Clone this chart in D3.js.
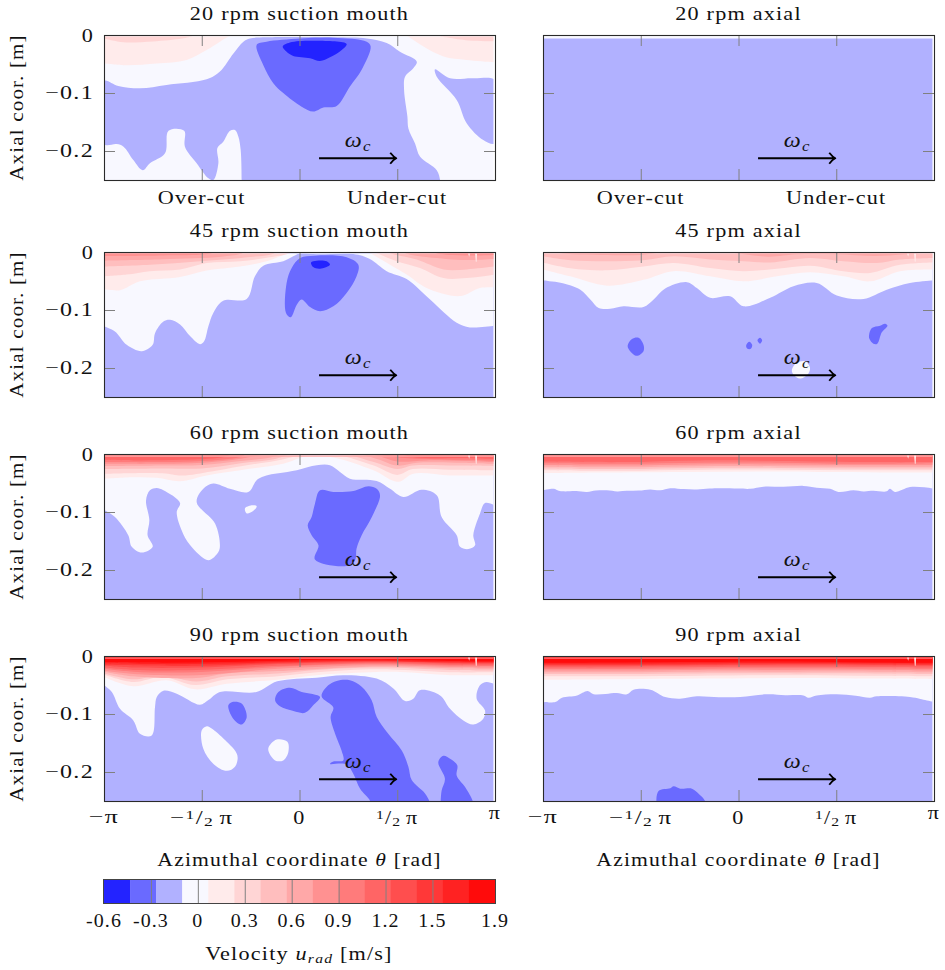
<!DOCTYPE html>
<html><head><meta charset="utf-8">
<script src="https://cdn.jsdelivr.net/npm/d3@7/dist/d3.min.js"></script>
<style>
html,body{margin:0;padding:0;background:#fff}
text{font-family:"Liberation Serif",serif;font-size:18.5px;fill:#111;letter-spacing:1px}
</style></head><body><svg id="c" width="945" height="970"></svg>
<script>
// ---- colour levels and labels (θ in units of π, z in metres)
const colorbarTicks=[-0.6,-0.3,0,0.3,0.6,0.9,1.2,1.5,1.9];
const levelEdges=[-0.6,-0.4333,-0.2667,-0.1,0.0667,0.2333,0.4,0.5667,0.7333,0.9,1.0667,1.2333,1.4,1.5667,1.7333,1.9];
const yTicks=[-0.1,-0.2];
const xTicks=[-0.5,0,0.5];

// ---- shared small features
const slitA=[[.862,-.002],[.872,-.002],[.868,-.008]];
const slitB=[[.898,-.002],[.908,-.002],[.906,-.017],[.902,-.017]];
const fullBox=[[-1,0],[1,0],[1,-.25],[-1,-.25]];
const capEdge=[[-1,-.0048],[1,-.0048]];

// ---- 20 rpm suction
const s20LavA=[[-1,-.079],[-.927,-.088],[-.816,-.092],[-.68,-.086],[-.475,-.0765],[-.407,-.063],[-.338,-.032],[-.287,-.0115],[-.253,-.006],[-.168,-.004],[.173,-.004],[.344,-.006],[.446,-.014],[.514,-.029],[.6,-.046],[.582,-.0575],[.54,-.072],[.535,-.095],[.552,-.141],[.557,-.161],[.591,-.187],[.617,-.21],[.702,-.233],[.719,-.25],[.72,-.26],[-.296,-.26],[-.296,-.25],[-.301,-.198],[-.313,-.175],[-.33,-.164],[-.355,-.165],[-.39,-.184],[-.42,-.195],[-.415,-.221],[-.441,-.25],[-.466,-.247],[-.526,-.221],[-.586,-.1925],[-.59,-.165],[-.67,-.165],[-.688,-.204],[-.765,-.221],[-.802,-.233],[-.85,-.2155],[-.9,-.1925],[-.935,-.188],[-1,-.1885],[-1.02,-.13]];
const s20LavB=[[.693,-.059],[.77,-.0747],[.889,-.0747],[1,-.0776],[1.02,-.13],[1,-.187],[.94,-.181],[.855,-.152],[.804,-.112],[.702,-.072]];
const s20PinkL=[[-1,-.049],[-.884,-.052],[-.73,-.049],[-.577,-.043],[-.475,-.026],[-.407,-.0115],[-.364,-.003],[-.3,.005]];
const s20PinkR=[[.5,.005],[.557,-.003],[.634,-.02],[.736,-.037],[.855,-.043],[1,-.047]];
const s20RoseL=[[-1,-.006],[-.9,-.0125],[-.75,-.011],[-.6,-.006],[-.55,-.002]];
const s20RoseR=[[.72,-.002],[.75,-.004],[.85,-.009],[1,-.011]];
const s20Mid=[[-.219,-.017],[-.168,-.0115],[.003,-.006],[.173,-.0046],[.344,-.0115],[.364,-.02],[.318,-.06],[.258,-.089],[.19,-.1224],[.122,-.125],[.07,-.132],[.011,-.1236],[-.083,-.1],[-.134,-.083],[-.185,-.052]];
const s20Dark=[[-.086,-.02],[-.049,-.013],[.087,-.01],[.241,-.0155],[.216,-.026],[.156,-.0385],[.105,-.045],[.054,-.04],[-.032,-.036],[-.066,-.029]];

// ---- 45 rpm suction
const s45White=[[-1,-.128],[-.944,-.137],[-.884,-.16],[-.807,-.171],[-.751,-.16],[-.739,-.14],[-.696,-.12],[-.662,-.117],[-.611,-.125],[-.56,-.145],[-.509,-.159],[-.488,-.154],[-.466,-.128],[-.441,-.105],[-.39,-.084],[-.27,-.081],[-.228,-.042],[-.185,-.0236],[-.083,-.016],[-.032,-.0075],[.003,-.002],[.088,-.004],[.275,-.0035],[.36,-.012],[.446,-.033],[.548,-.0466],[.668,-.082],[.804,-.122],[.872,-.13],[1,-.127]];
const s45L1=[[-1,-.064],[-.918,-.066],[-.816,-.0506],[-.611,-.043],[-.475,-.032],[-.304,-.025],[-.168,-.016],[-.066,-.002],[-.03,.006],[.3,.006],[.36,-.002],[.463,-.022],[.548,-.039],[.65,-.062],[.821,-.076],[.923,-.062],[1,-.061]];
const s45L2=[[-1,-.042],[-.884,-.039],[-.765,-.033],[-.611,-.03],[-.475,-.019],[-.304,-.016],[-.168,-.01],[-.05,-.002],[-.02,.006],[.33,.006],[.395,-.002],[.497,-.016],[.616,-.0276],[.736,-.045],[.855,-.045],[1,-.039]];
const s45L3=[[-1,-.025],[-.765,-.022],[-.509,-.016],[-.253,-.0086],[-.134,-.003],[-.1,.006],[.42,.006],[.463,-.002],[.6,-.013],[.736,-.03],[.855,-.03],[1,-.025]];
const s45L4=[[-1,-.015],[-.7,-.0125],[-.4,-.008],[-.3,-.003],[-.25,.006],[.5,.006],[.55,-.003],[.75,-.012],[.85,-.014],[1,-.012]];
const s45L5=[[-1,-.007],[-.7,-.006],[-.45,-.002],[-.4,.006],[.65,.006],[.7,-.002],[.85,-.006],[1,-.005]];
const s45Mid=[[.003,-.0103],[.079,-.0063],[.241,-.009],[.301,-.022],[.292,-.042],[.241,-.0707],[.173,-.0937],[.105,-.102],[.054,-.095],[.011,-.082],[-.014,-.091],[-.045,-.1126],[-.069,-.105],[-.066,-.0534],[-.04,-.0276]];
const s45Dark=[[.059,-.018],[.088,-.015],[.139,-.016],[.156,-.022],[.105,-.0287],[.07,-.026]];

// ---- 60 rpm suction
const s60White=[[-1,-.096],[-.944,-.1086],[-.876,-.14],[-.858,-.16],[-.807,-.17],[-.751,-.16],[-.777,-.14],[-.768,-.114],[-.785,-.08],[-.765,-.0626],[-.731,-.0586],[-.696,-.0626],[-.611,-.0845],[-.628,-.1],[-.603,-.1316],[-.56,-.157],[-.466,-.183],[-.415,-.169],[-.407,-.1575],[-.432,-.12],[-.526,-.083],[-.492,-.06],[-.441,-.051],[-.356,-.06],[-.262,-.0655],[-.21,-.0425],[-.014,-.028],[.088,-.0195],[.156,-.0195],[.207,-.031],[.258,-.0425],[.395,-.0465],[.463,-.06],[.531,-.074],[.625,-.0615],[.702,-.071],[.727,-.1086],[.804,-.14],[.821,-.16],[.864,-.164],[.898,-.1575],[.889,-.14],[.923,-.103],[.949,-.0845],[1,-.0885]];
const s60L1=[[-1,-.0425],[-.85,-.04],[-.73,-.041],[-.611,-.047],[-.475,-.037],[-.304,-.028],[-.083,-.0167],[.037,-.004],[.173,-.006],[.378,-.028],[.505,-.048],[.582,-.034],[.77,-.037],[1,-.037]];
const s60L2=[[-1,-.034],[-.7,-.033],[-.6,-.037],[-.45,-.03],[-.3,-.021],[-.12,-.0115],[0,-.003],[.1,-.001],[.2,-.002],[.38,-.02],[.5,-.036],[.58,-.026],[.77,-.027],[1,-.028]];
const s60L3=[[-1,-.026],[-.7,-.025],[-.5,-.025],[-.3,-.016],[-.12,-.008],[-.02,.002],[.2,.002],[.38,-.014],[.5,-.026],[.58,-.02],[.8,-.02],[1,-.021]];
const s60L4=[[-1,-.021],[-.7,-.02],[-.5,-.019],[-.3,-.012],[-.15,-.006],[-.05,.003],[.25,.003],[.4,-.009],[.5,-.02],[.6,-.015],[.8,-.015],[1,-.017]];
const s60L5=[[-1,-.017],[-.7,-.017],[-.5,-.015],[-.3,-.008],[-.2,-.002],[-.1,.004],[.3,.004],[.42,-.005],[.5,-.013],[.65,-.011],[.85,-.012],[1,-.014]];
const s60L6=[[-1,-.014],[-.7,-.014],[-.5,-.012],[-.3,-.005],[-.25,.003],[.35,.003],[.45,-.004],[.6,-.008],[.85,-.01],[1,-.012]];
const s60L7=[[-1,-.01],[-.85,-.011],[-.6,-.01],[-.4,-.006],[-.3,.003],[.45,.003],[.6,-.006],[.85,-.007],[1,-.009]];
const s60Hole=[[-.279,-.094],[-.245,-.0885],[-.219,-.09],[-.236,-.098],[-.27,-.1025]];
const s60Mid=[[.105,-.0626],[.173,-.0655],[.276,-.0638],[.353,-.0557],[.395,-.06],[.412,-.0713],[.37,-.1086],[.318,-.14],[.292,-.163],[.284,-.183],[.241,-.193],[.079,-.182],[.097,-.1575],[.062,-.14],[.042,-.123],[.062,-.1086],[.079,-.0856]];

// ---- 90 rpm suction
const s90White=[[-1,-.0506],[-.96,-.062],[-.918,-.091],[-.85,-.111],[-.816,-.134],[-.756,-.137],[-.739,-.088],[-.73,-.0707],[-.696,-.06],[-.628,-.065],[-.509,-.084],[-.466,-.076],[-.407,-.062],[-.22,-.062],[-.114,-.0437],[.088,-.0374],[.224,-.033],[.395,-.039],[.48,-.056],[.54,-.0776],[.582,-.0736],[.616,-.059],[.719,-.068],[.77,-.091],[.838,-.111],[.889,-.118],[.94,-.108],[.949,-.094],[.906,-.0736],[.923,-.0506],[.957,-.045],[1,-.049]];
const s90L1=[[-1,-.036],[-.85,-.052],[-.68,-.042],[-.534,-.0575],[-.373,-.048],[-.114,-.041],[.088,-.033],[.395,-.0276],[.514,-.0276],[.77,-.033],[1,-.033]];
const s90L2=[[-1,-.032],[-.85,-.045],[-.7,-.036],[-.534,-.05],[-.37,-.04],[-.11,-.035],[.09,-.028],[.4,-.023],[.77,-.028],[1,-.028]];
const s90L3=[[-1,-.03],[-.85,-.04],[-.7,-.033],[-.53,-.044],[-.37,-.035],[-.11,-.03],[.09,-.024],[.4,-.02],[.77,-.024],[1,-.025]];
const s90L4=[[-1,-.027],[-.85,-.035],[-.53,-.038],[-.37,-.03],[-.11,-.026],[.4,-.018],[.77,-.021],[1,-.022]];
const s90L5=[[-1,-.025],[-.85,-.031],[-.53,-.033],[-.11,-.022],[.4,-.016],[.77,-.019],[1,-.02]];
const s90L6=[[-1,-.022],[-.85,-.027],[-.53,-.028],[-.11,-.019],[.4,-.014],[.77,-.017],[1,-.018]];
const s90L7=[[-1,-.02],[-.85,-.024],[-.53,-.024],[-.11,-.017],[.4,-.012],[.77,-.015],[1,-.016]];
const s90L8=[[-1,-.017],[-.85,-.02],[-.53,-.02],[-.11,-.014],[.4,-.0105],[.77,-.013],[1,-.0135]];
const s90L9=[[-1,-.015],[-.53,-.017],[-.11,-.012],[.4,-.009],[.77,-.0115],[1,-.012]];
const s90L10=[[-1,-.0125],[-.7,-.014],[-.4,-.013],[-.1,-.0105],[.3,-.008],[.77,-.01],[1,-.0105]];
const s90L11=[[-1,-.0105],[-.7,-.0115],[-.4,-.0105],[-.1,-.008],[.2,-.006],[.45,-.006],[.77,-.0085],[1,-.009]];
const s90MidA=[[.113,-.0695],[.147,-.0506],[.19,-.043],[.258,-.042],[.318,-.053],[.369,-.0764],[.395,-.105],[.454,-.134],[.523,-.163],[.557,-.191],[.574,-.214],[.642,-.237],[.664,-.25],[.67,-.26],[.36,-.26],[.361,-.25],[.31,-.229],[.275,-.203],[.241,-.187],[.156,-.186],[.173,-.182],[.224,-.18],[.215,-.163],[.182,-.134],[.159,-.105],[.173,-.089]];
const s90MidB=[[-.125,-.0764],[-.108,-.062],[-.049,-.0546],[.011,-.062],[.105,-.0707],[.07,-.085],[.028,-.098],[-.031,-.095],[-.1,-.0868]];
const s90MidC=[[-.364,-.085],[-.339,-.079],[-.296,-.082],[-.27,-.105],[-.296,-.118],[-.339,-.108]];
const s90MidD=[[.71,-.183],[.736,-.172],[.77,-.177],[.807,-.1885],[.804,-.206],[.847,-.226],[.886,-.25],[.89,-.26],[.72,-.26],[.722,-.25],[.727,-.232],[.744,-.2115]];
const s90HoleA=[[-.5,-.128],[-.474,-.121],[-.449,-.125],[-.381,-.145],[-.318,-.171],[-.33,-.191],[-.372,-.198],[-.44,-.186],[-.492,-.16]];
const s90HoleB=[[-.16,-.16],[-.117,-.144],[-.062,-.148],[-.057,-.1655],[-.083,-.18],[-.125,-.18]];

// ---- 20 rpm axial
const a20Lav=[[-1,-.006],[1,-.006],[1,-.26],[-1,-.26]];

// ---- 45 rpm axial
const a45White=[[-1,-.049],[-.911,-.053],[-.809,-.065],[-.758,-.082],[-.715,-.0966],[-.656,-.098],[-.588,-.0937],[-.486,-.095],[-.434,-.082],[-.375,-.063],[-.264,-.052],[-.213,-.062],[-.145,-.079],[-.043,-.0764],[.026,-.0937],[.162,-.079],[.281,-.059],[.4,-.0534],[.503,-.075],[.639,-.081],[.758,-.065],[.877,-.0534],[1,-.049]];
const a45L1=[[-1,-.03],[-.86,-.042],[-.673,-.058],[-.486,-.048],[-.332,-.033],[-.145,-.042],[.026,-.0506],[.196,-.042],[.366,-.035],[.537,-.042],[.673,-.0506],[.826,-.033],[1,-.03]];
const a45L2=[[-1,-.018],[-.86,-.028],[-.673,-.0316],[-.486,-.025],[-.332,-.019],[-.145,-.0276],[.026,-.033],[.196,-.029],[.366,-.0236],[.537,-.033],[.673,-.036],[.826,-.022],[1,-.018]];
const a45L3=[[-1,-.0075],[-.86,-.0144],[-.673,-.016],[-.486,-.0144],[-.332,-.0075],[-.145,-.013],[.026,-.016],[.162,-.018],[.366,-.0103],[.537,-.016],[.707,-.019],[.826,-.013],[1,-.0103]];
const a45L4=[[-1,.002],[-.85,-.004],[-.7,-.005],[-.5,-.005],[-.35,.001],[-.1,.001],[.15,-.008],[.3,-.004],[.5,-.004],[.7,-.007],[.85,-.004],[1,.001]];
const a45MidA=[[-.567,-.1615],[-.545,-.15],[-.511,-.148],[-.486,-.16],[-.486,-.171],[-.52,-.179],[-.554,-.171]];
const a45MidB=[[.039,-.1615],[.054,-.1546],[.07,-.16],[.063,-.167],[.046,-.167]];
const a45MidC=[[.097,-.1523],[.11,-.148],[.121,-.1523],[.11,-.158]];
const a45MidD=[[.668,-.1425],[.682,-.131],[.724,-.127],[.75,-.1236],[.762,-.127],[.733,-.1385],[.71,-.158],[.69,-.158],[.67,-.15]];
const a45Hole=[[.273,-.203],[.298,-.191],[.341,-.1885],[.366,-.2],[.353,-.2115],[.315,-.218],[.281,-.2115]];

// ---- 60 rpm axial
const a60White=[[-1,-.0626],[-.945,-.06],[-.92,-.0635],[-.894,-.0644],[-.83,-.064],[-.775,-.0655],[-.73,-.063],[-.673,-.0626],[-.62,-.0645],[-.571,-.0635],[-.51,-.063],[-.452,-.061],[-.4,-.0625],[-.35,-.059],[-.28,-.0605],[-.213,-.061],[-.15,-.0595],[-.094,-.059],[0,-.0595],[.06,-.06],[.128,-.0563],[.23,-.0565],[.332,-.055],[.4,-.058],[.469,-.06],[.511,-.0655],[.588,-.0626],[.64,-.0645],[.69,-.0635],[.758,-.0644],[.775,-.06],[.8,-.0655],[.877,-.057],[.95,-.0575],[1,-.06]];
const a60L1=[[-1,-.033],[-.7,-.032],[-.3,-.031],[.1,-.03],[.5,-.031],[.8,-.032],[1,-.032]];
const a60L2=[[-1,-.028],[-.6,-.029],[-.2,-.027],[.2,-.027],[.6,-.028],[1,-.028]];
const a60L3=[[-1,-.025],[-.6,-.026],[-.2,-.024],[.2,-.024],[.6,-.025],[1,-.025]];
const a60L4=[[-1,-.022],[-.6,-.023],[-.2,-.021],[.2,-.021],[.6,-.022],[1,-.022]];
const a60L5=[[-1,-.019],[-.6,-.02],[-.2,-.018],[.2,-.018],[.6,-.019],[1,-.019]];
const a60L6=[[-1,-.016],[-.6,-.017],[-.2,-.015],[.2,-.015],[.6,-.017],[1,-.016]];
const a60L7=[[-1,-.013],[-.6,-.014],[-.2,-.011],[.2,-.012],[.7,-.014],[1,-.014]];

// ---- 90 rpm axial
const a90White=[[-1,-.0793],[-.937,-.0793],[-.903,-.072],[-.826,-.068],[-.772,-.0603],[-.741,-.066],[-.68,-.0655],[-.622,-.064],[-.571,-.066],[-.537,-.058],[-.451,-.058],[-.375,-.0707],[-.3,-.0735],[-.213,-.0695],[-.1,-.071],[.009,-.0707],[.145,-.066],[.24,-.0675],[.332,-.068],[.358,-.072],[.4,-.068],[.503,-.066],[.6,-.0685],[.673,-.072],[.707,-.0695],[.877,-.0707],[.93,-.074],[1,-.0793]];
const a90L1=[[-1,-.041],[-.6,-.04],[-.2,-.039],[.3,-.038],[.7,-.039],[1,-.04]];
const a90L2=[[-1,-.035],[-.6,-.035],[-.2,-.034],[.3,-.033],[.7,-.034],[1,-.035]];
const a90L3=[[-1,-.031],[-.6,-.031],[-.2,-.03],[.3,-.03],[.7,-.03],[1,-.031]];
const a90L4=[[-1,-.028],[-.6,-.028],[-.2,-.027],[.3,-.027],[.7,-.027],[1,-.028]];
const a90L5=[[-1,-.025],[-.6,-.025],[-.2,-.024],[.3,-.024],[.7,-.024],[1,-.025]];
const a90L6=[[-1,-.0225],[-.6,-.0225],[-.2,-.0215],[.3,-.021],[.7,-.0215],[1,-.0225]];
const a90L7=[[-1,-.02],[-.6,-.02],[-.2,-.019],[.3,-.0185],[.7,-.019],[1,-.02]];
const a90L8=[[-1,-.0175],[-.6,-.0175],[-.2,-.0165],[.3,-.016],[.7,-.0165],[1,-.0175]];
const a90L9=[[-1,-.0155],[-.6,-.0155],[-.2,-.0145],[.3,-.014],[.7,-.0145],[1,-.0155]];
const a90L10=[[-1,-.0135],[-.6,-.0135],[-.2,-.0125],[.3,-.012],[.7,-.0125],[1,-.0135]];
const a90L11=[[-1,-.0115],[-.6,-.011],[-.2,-.0105],[.3,-.0095],[.7,-.011],[1,-.0115]];
const a90Mid=[[-.409,-.2328],[-.349,-.228],[-.332,-.2247],[-.298,-.2287],[-.238,-.2287],[-.204,-.2374],[-.175,-.2477],[-.16,-.26],[-.409,-.26]];

const WHITE=3,LAV=2,MID=1,DARK=0,L1=4,L2=5;
const panels=[
 {name:"20 rpm suction mouth",col:0,row:0,base:WHITE,under:[[LAV,s20LavA],[LAV,s20LavB]],bands:[[L1,s20PinkL],[L1,s20PinkR],[L2,s20RoseL],[L2,s20RoseR]],over:[[MID,s20Mid],[DARK,s20Dark]],slits:false},
 {name:"20 rpm axial",col:1,row:0,base:WHITE,under:[[LAV,a20Lav]],bands:[],over:[],slits:false,straight:true},
 {name:"45 rpm suction mouth",col:0,row:1,base:LAV,under:[],bands:[s45White,s45L1,s45L2,s45L3,s45L4,s45L5].map((e,i)=>[WHITE+i,e]),over:[[MID,s45Mid],[DARK,s45Dark]],slits:true},
 {name:"45 rpm axial",col:1,row:1,base:LAV,under:[],bands:[a45White,a45L1,a45L2,a45L3,a45L4].map((e,i)=>[WHITE+i,e]),over:[[MID,a45MidA],[MID,a45MidB],[MID,a45MidC],[MID,a45MidD],[WHITE,a45Hole]],slits:true},
 {name:"60 rpm suction mouth",col:0,row:2,base:LAV,under:[],bands:[s60White,s60L1,s60L2,s60L3,s60L4,s60L5,s60L6,s60L7].map((e,i)=>[WHITE+i,e]),over:[[WHITE,s60Hole],[MID,s60Mid]],slits:true,cap:7},
 {name:"60 rpm axial",col:1,row:2,base:LAV,under:[],bands:[a60White,a60L1,a60L2,a60L3,a60L4,a60L5,a60L6,a60L7].map((e,i)=>[WHITE+i,e]),over:[],slits:true,cap:7},
 {name:"90 rpm suction mouth",col:0,row:3,base:LAV,under:[],bands:[s90White,s90L1,s90L2,s90L3,s90L4,s90L5,s90L6,s90L7,s90L8,s90L9,s90L10,s90L11].map((e,i)=>[WHITE+i,e]),over:[[MID,s90MidA],[MID,s90MidB],[MID,s90MidC],[MID,s90MidD],[WHITE,s90HoleA],[WHITE,s90HoleB]],slits:true,cap:9},
 {name:"90 rpm axial",col:1,row:3,base:LAV,under:[],bands:[a90White,a90L1,a90L2,a90L3,a90L4,a90L5,a90L6,a90L7,a90L8,a90L9,a90L10,a90L11].map((e,i)=>[WHITE+i,e]),over:[[MID,a90Mid]],slits:true,cap:9}
];

// ---- drawing
const svg=d3.select("#c");
const colLeft=[104,543],rowTop=[35,252,454,656],pw=391,ph=145;
const color=d3.scaleLinear().domain([-0.6,0,1.9]).range(["#0000ff","#ffffff","#ff0000"]);
const levelColor=i=>color((levelEdges[i]+levelEdges[i+1])/2);
const defs=svg.append("defs");

panels.forEach((p,pi)=>{
  const x0=colLeft[p.col],y0=rowTop[p.row];
  const x=d3.scaleLinear().domain([-1,1]).range([x0,x0+pw]);
  const y=d3.scaleLinear().domain([0,-0.25]).range([y0,y0+ph]);
  defs.append("clipPath").attr("id","clip"+pi).append("rect")
     .attr("x",x(-1)).attr("y",y(-.0025)).attr("width",x(.992)-x(-1)).attr("height",y(-.25)-y(-.0025));
  const g=svg.append("g");
  const plot=g.append("g").attr("clip-path",`url(#clip${pi})`);
  const blob=d3.line().x(d=>x(d[0])).y(d=>y(d[1])).curve(d3.curveCatmullRomClosed.alpha(.5));
  const poly=d3.line().x(d=>x(d[0])).y(d=>y(d[1])).curve(d3.curveLinearClosed);
  const band=d3.area().x(d=>x(d[0])).y1(d=>y(d[1])).y0(y(0.01)).curve(d3.curveCatmullRom.alpha(.5));
  plot.append("path").attr("d",poly(fullBox)).attr("fill",levelColor(p.base));
  p.under.forEach(([l,pts])=>plot.append("path").attr("d",(p.straight?poly:blob)(pts)).attr("fill",levelColor(l)));
  p.bands.forEach(([l,pts])=>plot.append("path").attr("d",band(pts)).attr("fill",levelColor(l)));
  if(p.cap) plot.append("path").attr("d",band(capEdge)).attr("fill",levelColor(p.cap));
  p.over.forEach(([l,pts])=>plot.append("path").attr("d",blob(pts)).attr("fill",levelColor(l)));
  if(p.slits){[slitA,slitB].forEach(s=>plot.append("path").attr("d",poly(s)).attr("fill",levelColor(4)));}

  // ticks on all four sides
  const tickAxes=[
    [d3.axisBottom(x).tickValues(xTicks).tickSize(-11),`translate(0,${y0+ph})`],
    [d3.axisTop(x).tickValues(xTicks).tickSize(-11),`translate(0,${y0})`],
    [d3.axisLeft(y).tickValues(yTicks).tickSize(-11),`translate(${x0},0)`],
    [d3.axisRight(y).tickValues(yTicks).tickSize(-11),`translate(${x0+pw},0)`]];
  tickAxes.forEach(([a,t])=>{
    const ag=g.append("g").attr("transform",t).call(a.tickFormat(""));
    ag.select(".domain").remove();
    ag.selectAll("line").attr("stroke","#808080").attr("stroke-width",1);
  });
  g.append("rect").attr("x",x0+.5).attr("y",y0+.5).attr("width",pw).attr("height",ph)
    .attr("fill","none").attr("stroke","#2a2a2a").attr("stroke-width",1.1);

  // title
  g.append("text").attr("x",x(0)).attr("y",y0-15).attr("text-anchor","middle").text(p.name);

  // rotation arrow and symbol
  const ay=y(-.2125),ax=x(.5)-1;
  g.append("path").attr("d",`M${x(.1)},${ay}H${ax}M${ax-6},${ay-5.5}Q${ax-2.5},${ay-1.2} ${ax},${ay}Q${ax-2.5},${ay+1.2} ${ax-6},${ay+5.5}`)
    .attr("fill","none").attr("stroke","#000").attr("stroke-width",1.9).attr("stroke-linejoin","round");
  const om=g.append("text").attr("x",x(.3)).attr("y",y0+112).attr("text-anchor","middle").attr("data-k",1.2);
  om.append("tspan").attr("font-style","italic").attr("font-size",20).text("ω");
  om.append("tspan").attr("font-style","italic").attr("font-size",14).attr("dy",4).text("c");

  // y axis labels on left column
  if(p.col===0){
    g.append("text").attr("x",x0-10).attr("y",y(0)+7).attr("text-anchor","end").text("0");
    yTicks.forEach(t=>g.append("text").attr("x",x0-10).attr("y",y(t)+6).attr("text-anchor","end").attr("data-k",1.3).text("−"+Math.abs(t).toFixed(1)));
    g.append("text").attr("transform",`translate(${x0-81},${y(-.125)}) rotate(-90)`).attr("text-anchor","middle").attr("data-k",1.14).text("Axial coor. [m]");
  }
  if(p.row===0){
    g.append("text").attr("x",x(-.5)).attr("y",y0+ph+24).attr("text-anchor","middle").text("Over-cut");
    g.append("text").attr("x",x(.5)).attr("y",y0+ph+24).attr("text-anchor","middle").text("Under-cut");
  }
  if(p.row===3){
    const base=y0+ph+23;
    g.append("text").attr("x",x(-1)).attr("y",base-1).attr("text-anchor","middle").attr("data-k",1.4).text("−π");
    g.append("text").attr("x",x(1)).attr("y",base-5).attr("text-anchor","middle").text("π");
    g.append("text").attr("x",x(0)).attr("y",base).attr("text-anchor","middle").text("0");
    [[-.5,"−",1.35],[.5,"",1.2]].forEach(([v,s,k])=>{
      const t=g.append("text").attr("x",x(v)).attr("y",base).attr("text-anchor","middle").attr("data-k",k);
      t.append("tspan").text(s);
      t.append("tspan").attr("font-size",13).attr("dy",-5).text("1");
      t.append("tspan").attr("dy",5).text("/");
      t.append("tspan").attr("font-size",13).attr("dy",2).text("2");
      t.append("tspan").attr("dy",-2).attr("dx",4).text("π");
    });
    const lab=g.append("text").attr("x",x(0)).attr("y",866).attr("text-anchor","middle").attr("data-k",1.17);
    lab.append("tspan").text("Azimuthal coordinate ");
    lab.append("tspan").attr("font-style","italic").text("θ");
    lab.append("tspan").text(" [rad]");
  }
});

// colour bar
const cbY0=880,cbH=23;
const cb=d3.scaleLinear().domain([-0.6,1.9]).range([colLeft[0],colLeft[0]+pw]);
const cbg=svg.append("g");
cbg.selectAll("rect").data(d3.range(levelEdges.length-1)).join("rect")
  .attr("x",i=>cb(levelEdges[i])).attr("y",cbY0).attr("width",i=>cb(levelEdges[i+1])-cb(levelEdges[i])+.3).attr("height",cbH)
  .attr("fill",i=>levelColor(i));
const cbAxis=cbg.append("g").attr("transform",`translate(0,${cbY0+cbH})`)
  .call(d3.axisBottom(cb).tickValues(colorbarTicks.slice(1,-1)).tickSize(-cbH).tickFormat(""));
cbAxis.select(".domain").remove();
cbAxis.selectAll("line").attr("stroke","#808080").attr("stroke-width",1);
cbg.append("rect").attr("x",colLeft[0]-.5).attr("y",cbY0-.5).attr("width",pw+1).attr("height",cbH+1).attr("fill","none").attr("stroke","#444").attr("stroke-width",1);
colorbarTicks.forEach(t=>cbg.append("text").attr("x",cb(t)).attr("y",927).attr("text-anchor","middle").attr("data-k",1.08).text(t));
const vl=cbg.append("text").attr("x",299).attr("y",960).attr("text-anchor","middle");
vl.append("tspan").text("Velocity ");
vl.append("tspan").attr("font-style","italic").text("u");
vl.append("tspan").attr("font-style","italic").attr("font-size",13).attr("dy",3).text("rad");
vl.append("tspan").attr("dy",-3).text(" [m/s]");

// Computer-Modern-like glyph width: stretch every label about its anchor
svg.selectAll("text").each(function(){
  const s=d3.select(this),k=+s.attr("data-k")||1.2,tr=s.attr("transform");
  if(tr) s.attr("transform",`${tr} scale(${k},1)`);
  else{const a=+s.attr("x"),b=+s.attr("y");s.attr("transform",`translate(${a},${b}) scale(${k},1) translate(${-a},${-b})`);}
});
</script></body></html>
